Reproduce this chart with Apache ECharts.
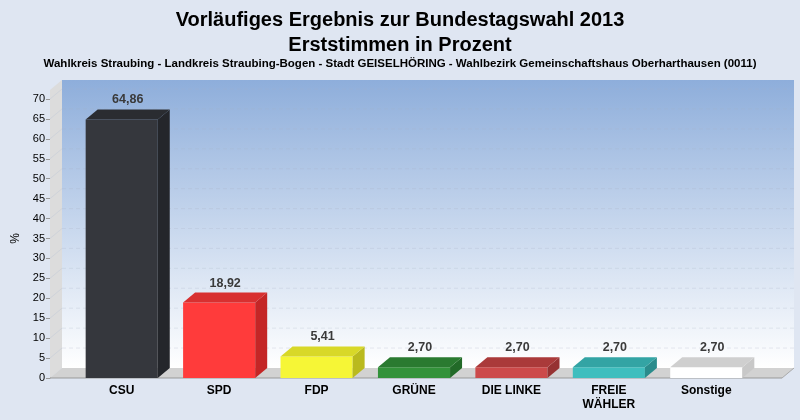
<!DOCTYPE html><html><head><meta charset="utf-8">
<script src="https://cdn.jsdelivr.net/npm/echarts@6/dist/echarts.min.js"></script>
<style>html,body{margin:0;padding:0;background:#dfe6f2}#c{width:800px;height:420px}</style></head><body><div id="c"></div>
<script>
const categories=['CSU','SPD','FDP','GRÜNE','DIE LINKE','FREIE\nWÄHLER','Sonstige'];
const values=[64.86,18.92,5.41,2.70,2.70,2.70,2.70];
const labels=['64,86','18,92','5,41','2,70','2,70','2,70','2,70'];
const fronts=['#35373d','#ff3b3b','#f6f636','#33923a','#cc4a4a','#3fbebe','#ffffff'];
const sides=['#24262b','#c42626','#baba1e','#226a28','#963232','#2a8c8c','#c8c8c8'];
const tops=['#2a2c31','#d83030','#d8d828','#2a7a30','#aa3a3a','#33a4a4','#cfcfcf'];
const yTicks=[0,5,10,15,20,25,30,35,40,45,50,55,60,65,70];
const DX=12,DY=-10;
const chart=echarts.init(document.getElementById('c'));
function walls(params,api){
  const p0=api.coord([0,0]),p70=api.coord([0,70]);
  const ax=50,bx=782;
  const ch=[];
  ch.push({type:'rect',shape:{x:ax+DX,y:p70[1]+DY-9,width:bx-ax,height:p0[1]-p70[1]+9},style:{fill:new echarts.graphic.LinearGradient(0,0,0,1,[{offset:0,color:'#8eaedb'},{offset:1,color:'#ffffff'}])}});
  ch.push({type:'polygon',shape:{points:[[ax,p70[1]-9],[ax+DX,p70[1]+DY-9],[ax+DX,p0[1]+DY],[ax,p0[1]]]},style:{fill:'#dcdcdc'}});
  ch.push({type:'polygon',shape:{points:[[ax,p0[1]],[ax+DX,p0[1]+DY],[bx+DX,p0[1]+DY],[bx,p0[1]]]},style:{fill:'#d2d2d2'}});
  yTicks.forEach(t=>{if(t===0)return;const y=api.coord([0,t])[1];
    ch.push({type:'line',shape:{x1:ax,y1:y,x2:ax+DX,y2:y+DY},style:{stroke:'#cfd3da',lineWidth:1}});
    ch.push({type:'line',shape:{x1:ax+DX,y1:y+DY,x2:bx+DX,y2:y+DY},style:{stroke:'rgba(170,180,200,0.25)',lineWidth:1,lineDash:[4,3]}});
  });
  ch.push({type:'line',shape:{x1:bx,y1:p0[1],x2:bx+DX,y2:p0[1]+DY},style:{stroke:'#aaa',lineWidth:1}});
  ch.push({type:'line',shape:{x1:ax,y1:p0[1],x2:bx,y2:p0[1]},style:{stroke:'#999',lineWidth:1}});
  return {type:'group',children:ch};
}
function bar(params,api){
  const i=api.value(0),v=api.value(1);
  const t=api.coord([i,v]),b=api.coord([i,0]);
  const hw=api.size([1,0])[0]*0.37;
  const x0=t[0]-hw,x1=t[0]+hw;
  return {type:'group',children:[
    {type:'rect',shape:{x:x0,y:t[1],width:x1-x0,height:b[1]-t[1]},style:{fill:fronts[i]}},
    {type:'polygon',shape:{points:[[x1,t[1]],[x1+DX,t[1]+DY],[x1+DX,b[1]+DY],[x1,b[1]]]},style:{fill:sides[i]}},
    {type:'polygon',shape:{points:[[x0,t[1]],[x0+DX,t[1]+DY],[x1+DX,t[1]+DY],[x1,t[1]]]},style:{fill:tops[i]}},
    {type:'text',style:{x:t[0]+DX/2,y:t[1]+DY-3,text:labels[i],textAlign:'center',textVerticalAlign:'bottom',font:'bold 12.5px Liberation Sans',fill:'#3a3a3a'}}
  ]};
}
chart.setOption({
  backgroundColor:'#dfe6f2',animation:false,
  title:[{text:'Vorläufiges Ergebnis zur Bundestagswahl 2013\nErststimmen in Prozent',left:'center',top:3,textStyle:{fontFamily:'Liberation Sans',fontWeight:'bold',fontSize:20,lineHeight:25,color:'#000'}},
    {text:'Wahlkreis Straubing - Landkreis Straubing-Bogen - Stadt GEISELHÖRING - Wahlbezirk Gemeinschaftshaus Oberharthausen (0011)',left:'center',top:53,textStyle:{fontFamily:'Liberation Sans',fontWeight:'bold',fontSize:11.5,color:'#000'}}],
  grid:{left:73,right:45,top:99,bottom:42},
  xAxis:{type:'category',data:categories,axisLine:{show:false},axisTick:{show:false},axisLabel:{fontFamily:'Liberation Sans',fontWeight:'bold',fontSize:12,color:'#000',margin:6,lineHeight:14}},
  yAxis:{type:'value',min:0,max:70,interval:5,offset:23,name:'%',nameLocation:'middle',nameRotate:90,nameGap:28,nameTextStyle:{fontFamily:'Liberation Sans',fontSize:12,color:'#000'},
    axisLine:{show:true,lineStyle:{color:'#999'}},axisTick:{show:true,length:4,lineStyle:{color:'#999'}},splitLine:{show:false},axisLabel:{fontFamily:'Liberation Sans',fontSize:11,color:'#000',margin:5}},
  series:[{type:'custom',renderItem:walls,data:[[0,0]],z:1,silent:true},
    {type:'custom',renderItem:bar,data:values.map((v,i)=>[i,v]),z:2}]
});
</script></body></html>
